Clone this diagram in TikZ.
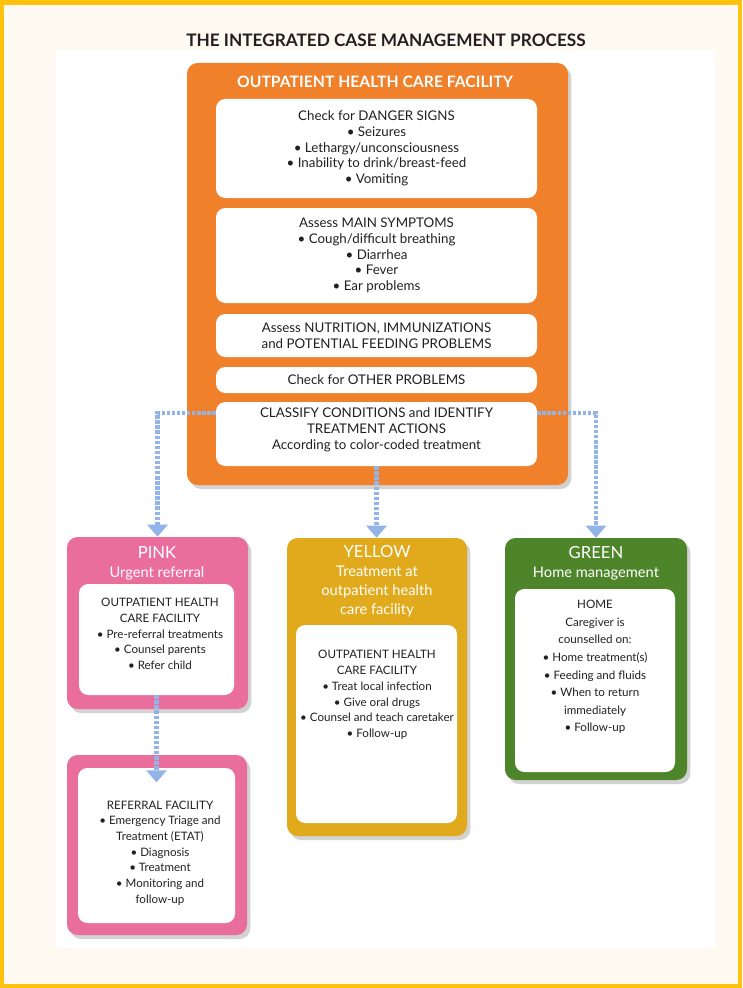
\documentclass[tikz,border=0pt]{standalone}
\usepackage{fontspec}
\setmainfont{Lato}
\usetikzlibrary{positioning,fit,shadows,arrows.meta}

\begin{document}
\begin{tikzpicture}[x=0.75pt, y=-0.75pt,
    box/.style={rounded corners=8pt, inner sep=0pt,
        drop shadow={shadow xshift=2.5pt, shadow yshift=-3pt, opacity=0.35}},
    panel/.style={fill=white, rounded corners=7pt, inner sep=0pt},
    body/.style={text=inkColour, align=center, inner sep=0pt,
        font=\fontsize{10}{11.8}\selectfont},
    small/.style={body, font=\fontsize{8.7}{11.8}\selectfont},
    head/.style={text=white, align=center, inner sep=0pt,
        font=\fontsize{11}{14.3}\selectfont},
    flow/.style={draw=flowColour, line width=3.2pt, dash pattern=on 2.6pt off 1.2pt,
        -{Triangle[width=15pt, length=9pt, fill=flowColour]}}]

    \definecolor{frameColour}{HTML}{FFC20E}
    \definecolor{creamColour}{HTML}{FEF9F1}
    \definecolor{inkColour}{HTML}{231F20}
    \definecolor{orangeColour}{HTML}{F0802A}
    \definecolor{pinkColour}{HTML}{E96E9C}
    \definecolor{yellowColour}{HTML}{E0AA1C}
    \definecolor{greenColour}{HTML}{4E852A}
    \definecolor{flowColour}{HTML}{92B4E6}
    \def\colourName#1{{\fontsize{12.5}{14.3}\selectfont #1}}

    % Page frame and panel
    \fill[frameColour] (0,0) rectangle (742,988);
    \fill[creamColour] (4,5) rectangle (738,984);
    \fill[white] (56,50) rectangle (715,948);

    % Title
    \node[text=inkColour, font=\bfseries\fontsize{12.9}{14}\selectfont] (title) at (386,40)
        {THE INTEGRATED CASE MANAGEMENT PROCESS};

    % Outpatient facility box
    \node[box, fill=orangeColour, fit={(187,63) (568,485)}] (facility) {};
    \node[text=white, font=\bfseries\fontsize{11.8}{13}\selectfont] (facilityhead) at (375,82)
        {OUTPATIENT HEALTH CARE FACILITY};

    \node[panel, fit={(216,99) (537,198)}] (danger) {};
    \node[body] at (danger.center) {Check for DANGER SIGNS\\ \textbullet{} Seizures\\
        \textbullet{} Lethargy/unconsciousness\\ \textbullet{} Inability to drink/breast-feed\\
        \textbullet{} Vomiting};

    \node[panel, fit={(216,208) (537,303)}] (symptoms) {};
    \node[body] at (symptoms.center) {Assess MAIN SYMPTOMS\\ \textbullet{} Cough/difficult breathing\\
        \textbullet{} Diarrhea\\ \textbullet{} Fever\\ \textbullet{} Ear problems};

    \node[panel, fit={(216,314) (537,357)}] (nutrition) {};
    \node[body] at (nutrition.center) {Assess NUTRITION, IMMUNIZATIONS\\ and POTENTIAL FEEDING PROBLEMS};

    \node[panel, fit={(216,367) (537,393)}] (other) {};
    \node[body] at (other.center) {Check for OTHER PROBLEMS};

    \node[panel, fit={(216,402) (537,466)}] (classify) {};
    \node[body] at ([yshift=3pt]classify.center) {CLASSIFY CONDITIONS and IDENTIFY\\ TREATMENT ACTIONS\\
        According to color-coded treatment};

    % Pink: urgent referral
    \node[box, fill=pinkColour, fit={(67,537) (248,709)}] (pink) {};
    \node[head] (pinkhead) at (157,563) {\colourName{PINK}\\ Urgent referral};
    \node[panel, fit={(79,584) (234,695)}] (pinkin) {};
    \node[small] at (160,634) {OUTPATIENT HEALTH\\ CARE FACILITY\\
        \textbullet{} Pre-referral treatments\\ \textbullet{} Counsel parents\\ \textbullet{} Refer child};

    \node[box, fill=pinkColour, fit={(67,755) (247,935)}] (referral) {};
    \node[panel, fit={(78,768) (235,923)}] (refin) {};
    \node[small] at (160,853) {REFERRAL FACILITY\\ \textbullet{} Emergency Triage and\\
        Treatment (ETAT)\\ \textbullet{} Diagnosis\\ \textbullet{} Treatment\\
        \textbullet{} Monitoring and\\ follow-up};

    % Yellow: treatment at facility
    \node[box, fill=yellowColour, fit={(287,538) (467,836)}] (yellow) {};
    \node[head] (yellowhead) at (377,581) {\colourName{YELLOW}\\ Treatment at\\ outpatient health\\ care facility};
    \node[panel, fit={(296,625) (457,823)}] (yellowin) {};
    \node[small] at (377,695) {OUTPATIENT HEALTH\\ CARE FACILITY\\ \textbullet{} Treat local infection\\
        \textbullet{} Give oral drugs\\ \textbullet{} Counsel and teach caretaker\\ \textbullet{} Follow-up};

    % Green: home management
    \node[box, fill=greenColour, fit={(505,538) (687,780)}] (green) {};
    \node[head] (greenhead) at (596,563) {\colourName{GREEN}\\ Home management};
    \node[panel, fit={(515,589) (675,772)}] (greenin) {};
    \node[small, font=\fontsize{8.7}{13.2}\selectfont] at (595,667) {HOME\\ Caregiver is\\ counselled on:\\
        \textbullet{} Home treatment(s)\\ \textbullet{} Feeding and fluids\\ \textbullet{} When to return\\
        immediately\\ \textbullet{} Follow-up};

    % Connectors
    \draw[flow] ([yshift=16pt]classify.west) -| (pink.north);
    \draw[flow] (classify.south) -- (classify.south |- yellow.north);
    \draw[flow] ([yshift=16pt]classify.east) -| (green.north);
    \draw[flow] (pinkin.south) -- ([yshift=-11pt]refin.north);

\end{tikzpicture}
\end{document}
